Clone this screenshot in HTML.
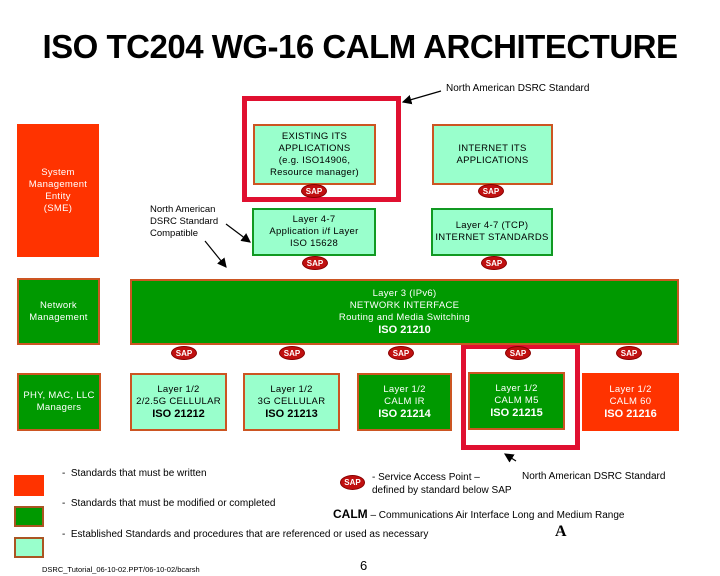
<!DOCTYPE html>
<html><head><meta charset="utf-8"><style>
body{margin:0;width:720px;height:576px;background:#fff;position:relative;overflow:hidden;font-family:"Liberation Sans",sans-serif;}
.a{position:absolute;}
.b{position:absolute;box-sizing:border-box;display:flex;flex-direction:column;align-items:center;justify-content:center;text-align:center;font-size:9.5px;line-height:12px;letter-spacing:0.3px;white-space:nowrap;}
.lg{background:#99ffcc;border:2px solid #cc5522;color:#000;}
.lgg{background:#99ffcc;border:2px solid #119922;color:#000;}
.g{background:#009900;border:2px solid #cc5522;color:#fff;}
.r{background:#ff3300;color:#fff;}
.sap{position:absolute;width:26px;height:14px;border-radius:50%;background:#c01010;border:1px solid #800;color:#fff;font-size:8px;font-weight:bold;line-height:14px;text-align:center;box-sizing:border-box;}
.iso{font-weight:bold;font-size:11px;letter-spacing:0;}
.t{position:absolute;font-size:10px;white-space:nowrap;}
</style></head><body>
<div class="a" style="left:0;width:720px;top:28px;text-align:center;font-size:33px;font-weight:bold;letter-spacing:-0.5px;">ISO TC204 WG-16 CALM ARCHITECTURE</div>
<div class="t" style="left:446px;top:83px;">North American DSRC Standard</div>
<svg class="a" style="left:0;top:0" width="720" height="576">
<defs><marker id="ar" markerWidth="8" markerHeight="8" refX="7" refY="4" orient="auto"><path d="M0,0L8,4L0,8z" fill="#000"/></marker></defs>
<line x1="441" y1="91" x2="403" y2="102" stroke="#000" stroke-width="1.2" marker-end="url(#ar)"/>
<line x1="226" y1="224" x2="250" y2="242" stroke="#000" stroke-width="1.2" marker-end="url(#ar)"/>
<line x1="205" y1="241" x2="226" y2="267" stroke="#000" stroke-width="1.2" marker-end="url(#ar)"/>
<line x1="516" y1="461" x2="505" y2="454" stroke="#000" stroke-width="1.2" marker-end="url(#ar)"/>
<rect x="244.5" y="98.5" width="154" height="101" fill="none" stroke="#e01030" stroke-width="5"/>
<rect x="463.5" y="346.5" width="114" height="101" fill="none" stroke="#e01030" stroke-width="5"/>
</svg>
<div class="b lg" style="left:253px;top:124px;width:123px;height:61px;">EXISTING ITS<br>APPLICATIONS<br>(e.g. ISO14906,<br>Resource manager)</div>
<div class="b lg" style="left:432px;top:124px;width:121px;height:61px;">INTERNET ITS<br>APPLICATIONS</div>
<div class="b r" style="left:17px;top:124px;width:82px;height:133px;">System<br>Management<br>Entity<br>(SME)</div>
<div class="t" style="left:150px;top:204px;line-height:12px;font-size:9.5px;">North American<br>DSRC Standard<br>Compatible</div>
<div class="b lgg" style="left:252px;top:208px;width:124px;height:48px;">Layer 4-7<br>Application i/f Layer<br>ISO 15628</div>
<div class="b lgg" style="left:431px;top:208px;width:122px;height:48px;">Layer 4-7 (TCP)<br>INTERNET STANDARDS</div>
<div class="b g" style="left:17px;top:278px;width:83px;height:67px;">Network<br>Management</div>
<div class="b g" style="left:130px;top:279px;width:549px;height:66px;">Layer 3 (IPv6)<br>NETWORK INTERFACE<br>Routing and Media Switching<br><span class="iso">ISO 21210</span></div>
<div class="b g" style="left:17px;top:373px;width:84px;height:58px;">PHY, MAC, LLC<br>Managers</div>
<div class="b lg" style="left:130px;top:373px;width:97px;height:58px;">Layer 1/2<br>2/2.5G CELLULAR<br><span class="iso">ISO 21212</span></div>
<div class="b lg" style="left:243px;top:373px;width:97px;height:58px;">Layer 1/2<br>3G CELLULAR<br><span class="iso">ISO 21213</span></div>
<div class="b g" style="left:357px;top:373px;width:95px;height:58px;">Layer 1/2<br>CALM IR<br><span class="iso">ISO 21214</span></div>
<div class="b g" style="left:468px;top:372px;width:97px;height:58px;">Layer 1/2<br>CALM M5<br><span class="iso">ISO 21215</span></div>
<div class="b r" style="left:582px;top:373px;width:97px;height:58px;">Layer 1/2<br>CALM 60<br><span class="iso">ISO 21216</span></div>
<div class="sap" style="left:301px;top:184px;">SAP</div>
<div class="sap" style="left:478px;top:184px;">SAP</div>
<div class="sap" style="left:302px;top:256px;">SAP</div>
<div class="sap" style="left:481px;top:256px;">SAP</div>
<div class="sap" style="left:171px;top:346px;">SAP</div>
<div class="sap" style="left:279px;top:346px;">SAP</div>
<div class="sap" style="left:388px;top:346px;">SAP</div>
<div class="sap" style="left:505px;top:346px;">SAP</div>
<div class="sap" style="left:616px;top:346px;">SAP</div>
<div class="a" style="left:14px;top:475px;width:30px;height:21px;background:#ff3300;"></div>
<div class="a" style="left:14px;top:506px;width:30px;height:21px;background:#009900;border:2px solid #aa5522;box-sizing:border-box;"></div>
<div class="a" style="left:14px;top:537px;width:30px;height:21px;background:#99ffcc;border:2px solid #aa5522;box-sizing:border-box;"></div>
<div class="t" style="left:62px;top:468px;">-&nbsp; Standards that must be written</div>
<div class="t" style="left:62px;top:498px;">-&nbsp; Standards that must be modified or completed</div>
<div class="t" style="left:62px;top:529px;">-&nbsp; Established Standards and procedures that are referenced or used as necessary</div>
<div class="sap" style="left:340px;top:475px;width:25px;height:15px;">SAP</div>
<div class="t" style="left:372px;top:471px;line-height:13px;">- Service Access Point –<br>defined by standard below SAP</div>
<div class="t" style="left:522px;top:471px;">North American DSRC Standard</div>
<div class="t" style="left:333px;top:507px;"><b style="font-size:12px;">CALM</b> – Communications Air Interface Long and Medium Range</div>
<div class="a" style="left:555px;top:523px;font-family:'Liberation Serif',serif;font-weight:bold;font-size:16px;">A</div>
<div class="t" style="left:42px;top:565px;font-size:7.5px;">DSRC_Tutorial_06-10-02.PPT/06-10-02/bcarsh</div>
<div class="a" style="left:360px;top:558px;font-size:13px;">6</div>
</body></html>
